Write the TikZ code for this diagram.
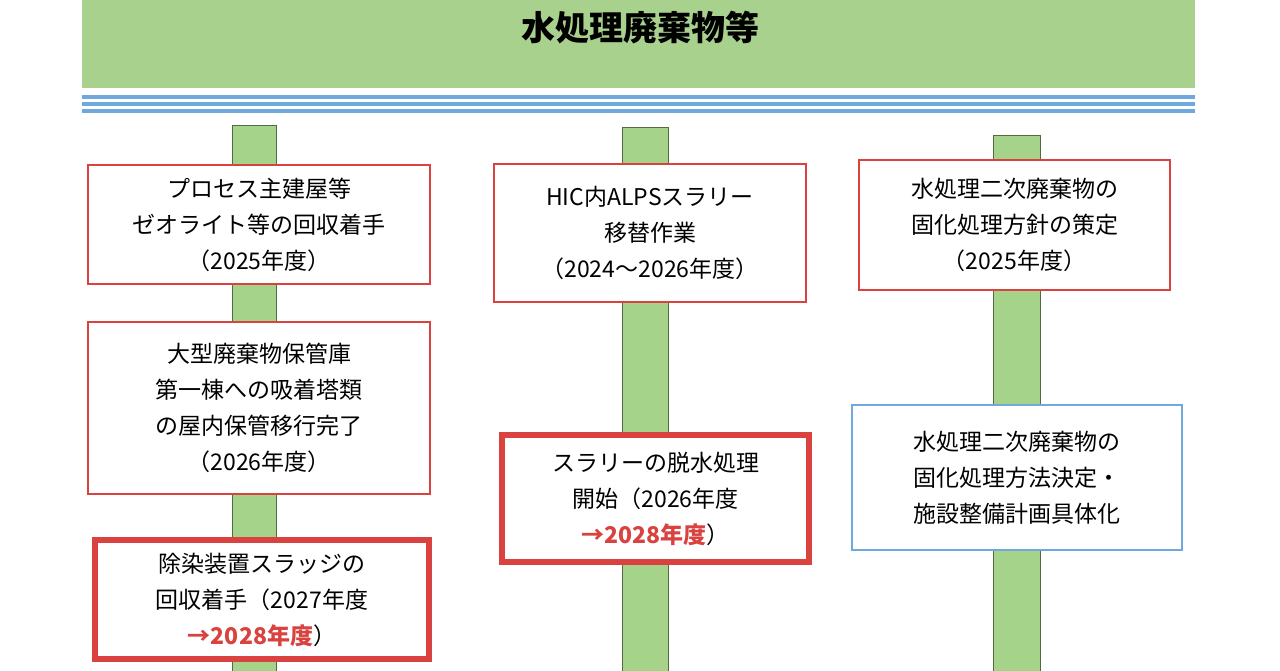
\documentclass[tikz,border=0pt]{standalone}
\usepackage{fontspec}
\setmainfont{Noto Sans CJK JP}
\definecolor{hg}{HTML}{A9D18E}
\definecolor{pg}{HTML}{A6D38A}
\definecolor{rb}{HTML}{D9423E}
\definecolor{bl}{HTML}{6FA8DC}
\begin{document}
\begin{tikzpicture}[x=1pt,y=-1pt,
 thin box/.style={draw=rb,line width=1.8pt,fill=white},
 thick box/.style={draw=rb,line width=6pt,fill=white},
 blue box/.style={draw=bl,line width=1.8pt,fill=white},
 pole/.style={fill=pg,draw=pg!50!black,line width=1pt},
 lbl/.style={align=center,font=\fontsize{23}{36}\selectfont}]
\useasboundingbox (0,0) rectangle (1280,670);
\fill[white] (0,0) rectangle (1280,670);
\fill[hg] (82,0) rectangle (1195,88);
\node (title) at (640,28) {\fontsize{34}{36}\selectfont\bfseries 水処理廃棄物等};
\foreach \y in {97,104,111} \draw[bl,line width=3.2pt] (82,\y) -- (1195,\y);
\draw[pole] (232,125) rectangle (276,672);
\draw[pole] (622,127) rectangle (668,672);
\draw[pole] (993,135) rectangle (1040,672);
\node[thin box,minimum width=342,minimum height=119] (b1) at (259,224.5) {};
\node[lbl] at (b1) {プロセス主建屋等\\ゼオライト等の回収着手\\（2025年度）};
\node[thin box,minimum width=342,minimum height=172] (b2) at (259,408) {};
\node[lbl] at (b2) {大型廃棄物保管庫\\第一棟への吸着塔類\\の屋内保管移行完了\\（2026年度）};
\node[thick box,minimum width=334,minimum height=119] (b3) at (262,599.5) {};
\node[lbl] at (b3) {除染装置スラッジの\\回収着手（2027年度\\\textcolor{rb}{\bfseries →2028年度}）};
\node[thin box,minimum width=312,minimum height=138] (b4) at (650,233) {};
\node[lbl] at (b4) {HIC内ALPSスラリー\\移替作業\\（2024～2026年度）};
\node[thick box,minimum width=307,minimum height=127] (b5) at (655.5,498.5) {};
\node[lbl] at (b5) {スラリーの脱水処理\\開始（2026年度\\\textcolor{rb}{\bfseries →2028年度}）};
\node[thin box,minimum width=311,minimum height=130] (b6) at (1014.5,225) {};
\node[lbl] at (b6) {水処理二次廃棄物の\\固化処理方針の策定\\（2025年度）};
\node[blue box,minimum width=330,minimum height=145] (b7) at (1017,477.5) {};
\node[lbl] at (b7) {水処理二次廃棄物の\\固化処理方法決定・\\施設整備計画具体化};
\end{tikzpicture}
\end{document}
